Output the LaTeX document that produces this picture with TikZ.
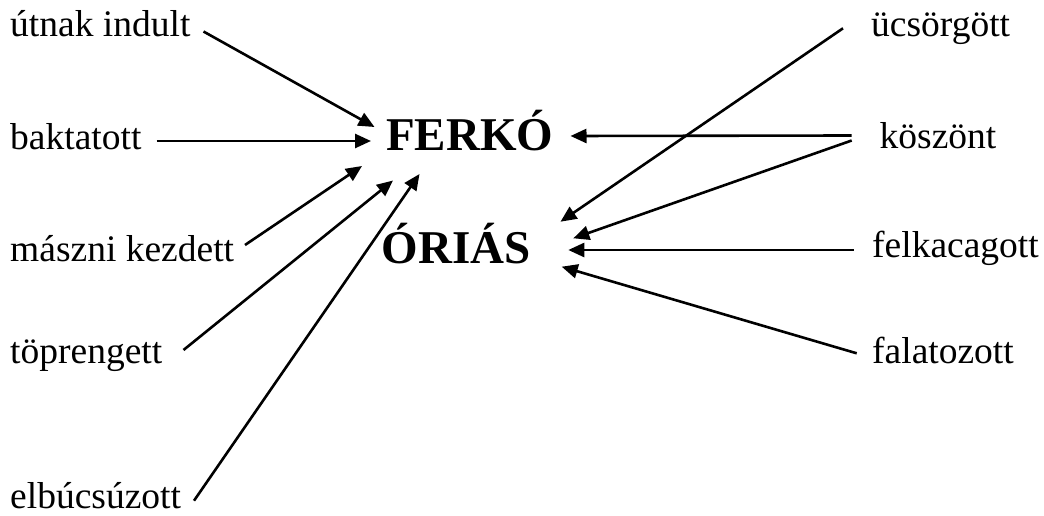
\documentclass[tikz,border=0pt]{standalone}
\usepackage{fontspec}
\setmainfont{Liberation Serif}
\usetikzlibrary{arrows.meta}
\begin{document}
\begin{tikzpicture}[x=1pt,y=-1pt,
  lbl/.style={anchor=base west,inner sep=0pt,font=\fontsize{37.5}{40}\selectfont},
  big/.style={anchor=base west,inner sep=0pt,font=\fontsize{47}{50}\selectfont\bfseries},
  arr/.style={line width=2.6pt,-{Triangle[length=16pt,width=14pt]}}]
\useasboundingbox (0,0) rectangle (1044,516);
% left labels
\node[lbl] (l1) at (10,37) {útnak indult};
\node[lbl] (l2) at (10,149.5) {baktatott};
\node[lbl] (l3) at (10,261.5) {mászni kezdett};
\node[lbl] (l4) at (10,363) {töprengett};
\node[lbl] (l5) at (10,508.5) {elbúcsúzott};
% right labels
\node[lbl] (r1) at (871,36.7) {ücsörgött};
\node[lbl] (r2) at (879.5,148.3) {köszönt};
\node[lbl] (r3) at (872,257) {felkacagott};
\node[lbl] (r4) at (872,363) {falatozott};
% centre words
\node[big] (ferko) at (386,150) {FERKÓ};
\node[big] (orias) at (381.5,263.3) {ÓRIÁS};
% connector ends
\coordinate (s1) at (203.5,31.5);
\coordinate (t1) at (374.5,127);
\coordinate (s2) at (156.5,141);
\coordinate (t2) at (371,141);
\coordinate (s3) at (245,245);
\coordinate (t3) at (362,166);
\coordinate (s4) at (183.5,350);
\coordinate (t4) at (393,180.5);
\coordinate (s5) at (194,500.7);
\coordinate (t5) at (419.5,174);
\coordinate (u1) at (843,28.3);
\coordinate (v1) at (560.5,221.7);
\coordinate (u2) at (851.7,135.5);
\coordinate (v2) at (570.5,136);
\coordinate (u3) at (851.7,140.5);
\coordinate (v3) at (573.3,238.3);
\coordinate (u4) at (853.5,250);
\coordinate (v4) at (568.3,250);
\coordinate (u5) at (856.7,353.3);
\coordinate (v5) at (561.7,266.7);
\draw[arr] (s1) -- (t1);
\draw[arr] (s2) -- (t2);
\draw[arr] (s3) -- (t3);
\draw[arr] (s4) -- (t4);
\draw[arr] (s5) -- (t5);
\draw[arr] (u1) -- (v1);
\draw[arr] (u2) -- (v2);
\draw[arr] (u3) -- (v3);
\draw[arr] (u4) -- (v4);
\draw[arr] (u5) -- (v5);
\end{tikzpicture}
\end{document}
